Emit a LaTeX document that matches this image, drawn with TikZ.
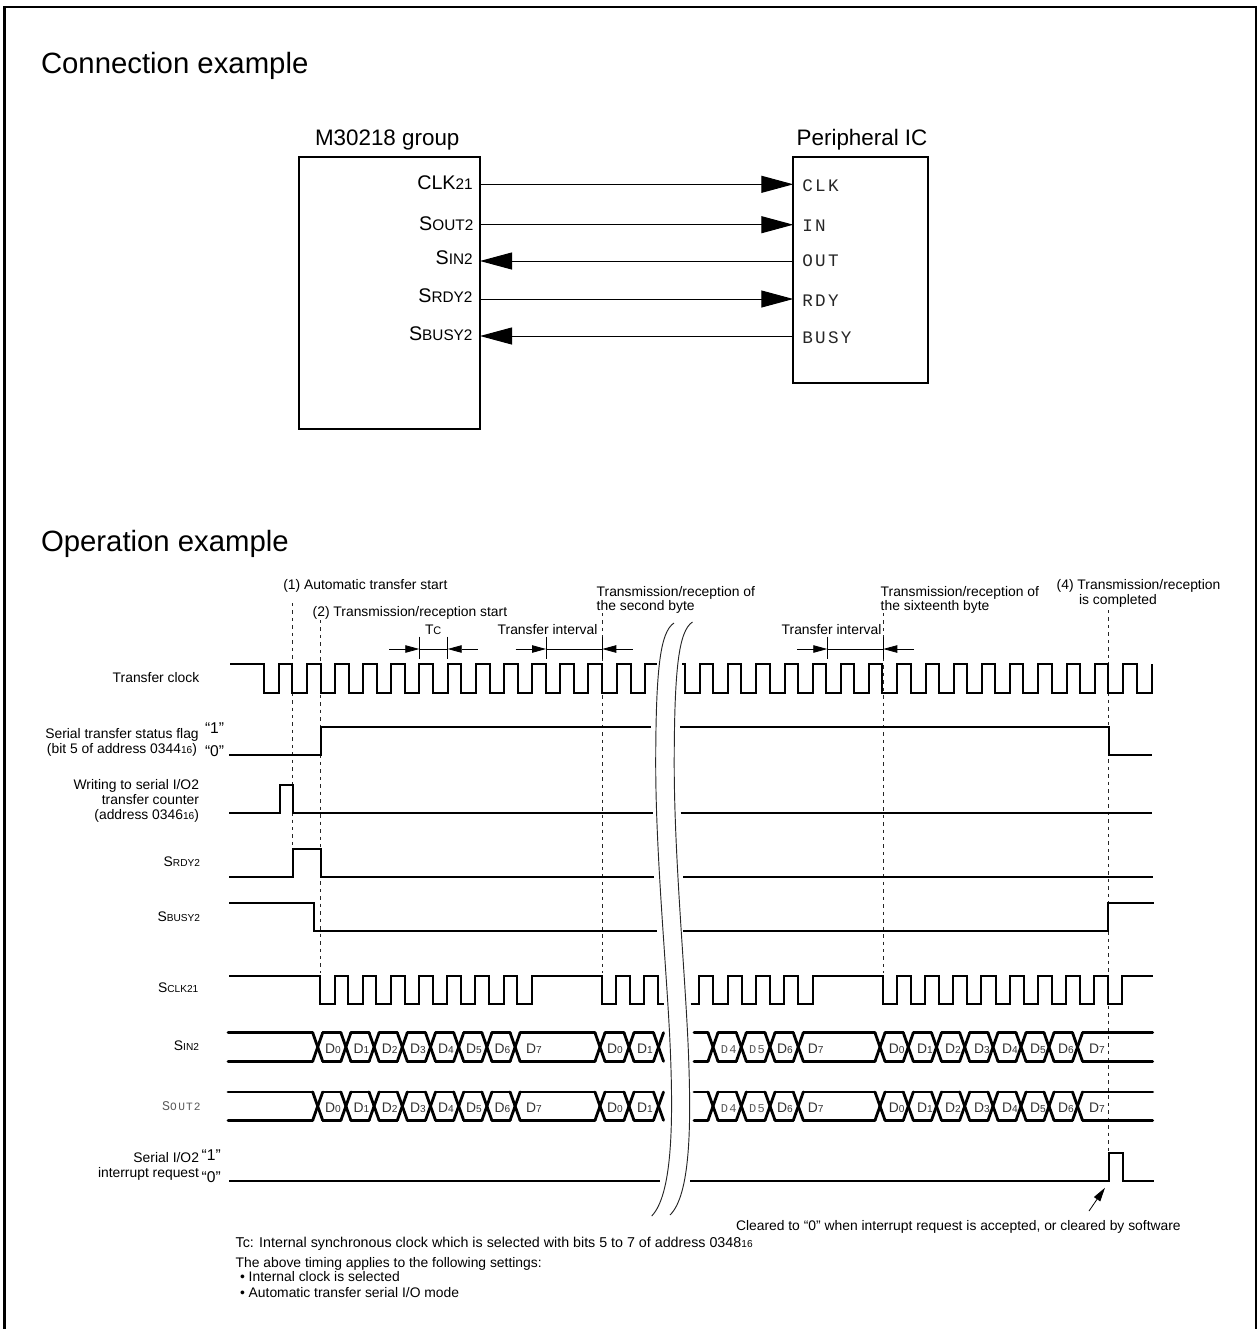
\documentclass[tikz,border=0pt]{standalone}
\usepackage{fontspec}
\setmainfont{Liberation Sans}
\newfontfamily\monof[LetterSpace=13]{Liberation Mono}
\newfontfamily\monog[LetterSpace=10]{Liberation Mono}
\usetikzlibrary{arrows.meta}
\newcommand\fsz[1]{\fontsize{#1}{#1}\selectfont}
\newcommand\smt[1]{{\fsz{7.6}#1}}
\newcommand\bigsig[2]{{\fsz{14.8}#1}{\fsz{11.5}#2}}
\newcommand\bigsub[2]{#1\smt{#2}}
\newcommand\dlab[3]{\node[dtxt] (d#3x#1x#2) at (#1,#2) {D\smt{#3}};}
\newcommand\dmon[3]{\node[dmono] (m#3x#1x#2) at (#1,#2) {D#3};}
\newcommand\busline[3]{%
  \foreach \c in {#3} {
    \draw[bus] (\c-\bh,#1) -- (\c+\bh,#2);
    \draw[bus] (\c-\bh,#2) -- (\c+\bh,#1);
  }}
\newcommand\busflat[3]{%
  \foreach \a/\b in {#3} {
    \draw[bus] (\a,#1) -- (\b,#1);
    \draw[bus] (\a,#2) -- (\b,#2);
  }}
\def\bh{5}
\tikzset{
  wl/.style={inner sep=0,outer sep=0,anchor=base west,font=\fsz{10.4}},
  el/.style={inner sep=0,outer sep=0,anchor=base east,font=\fsz{10.4}},
  head/.style={wl,font=\fsz{22}},
  title/.style={wl,font=\fsz{16.8}},
  sig/.style={el},
  pin/.style={wl,font=\fsz{13.2}\monof,text=black!85},
  qt/.style={wl,font=\fsz{11.7}},
  dtxt/.style={inner sep=0,outer sep=0,anchor=base,font=\fsz{10.4},text=black!80},
  dmono/.style={inner sep=0,outer sep=0,anchor=base,font=\fsz{9}\monog,text=black!65},
  conn/.style={line width=.75pt,black},
  big arrow/.style={conn,-{Triangle[length=24pt,width=12.75pt]}},
  dim arrow/.style={line width=.6pt,black,-{Triangle[length=10.5pt,width=5.6pt]}},
  tick/.style={line width=.6pt},
  sigline/.style={line width=1.5pt,line join=miter},
  bus/.style={line width=2.1pt,line cap=round},
  guide/.style={line width=.7pt,black!85,dash pattern=on 2.6pt off 3pt},
  wave/.style={line width=.7pt,black!85},
}
\begin{document}
\begin{tikzpicture}[x=0.75pt,y=-0.75pt]
\useasboundingbox (0,0) rectangle (1257,1329);
% frame
\draw[line width=2pt] (4.5,1329) -- (4.5,7) -- (1256,7) -- (1256,1329);
\node[head] (h1) at (41,73) {Connection example};
\node[head] (h2) at (41,551) {Operation example};
% connection boxes
\coordinate (boxAa) at (299,157.3); \coordinate (boxAb) at (480,429);
\coordinate (boxBa) at (793.3,157.3); \coordinate (boxBb) at (928.3,383.3);
\draw[line width=1.5pt] (boxAa) rectangle (boxAb);
\draw[line width=1.5pt] (boxBa) rectangle (boxBb);
\node[title] (tA) at (315,145) {M30218 group};
\node[title] (tB) at (796.7,145) {Peripheral IC};
\foreach \n/\y in {clk/184.3,in/224.7,out/261,rdy/299,busy/336}{
  \coordinate (A\n) at (480,\y);
  \coordinate (B\n) at (793.3,\y);
}
\draw[big arrow] (Aclk) -- (Bclk);
\draw[big arrow] (Ain) -- (Bin);
\draw[big arrow] (Bout) -- (Aout);
\draw[big arrow] (Ardy) -- (Brdy);
\draw[big arrow] (Bbusy) -- (Abusy);
\node[el] (p1) at (472.7,189) {\bigsig{CLK}{21}};
\node[el] (p2) at (473.3,230) {\bigsig{S}{OUT2}};
\node[el] (p3) at (472.7,264.3) {\bigsig{S}{IN2}};
\node[el] (p4) at (472.5,302.7) {\bigsig{S}{RDY2}};
\node[el] (p5) at (472.5,340) {\bigsig{S}{BUSY2}};
\node[pin] (q1) at (802.3,191) {CLK};
\node[pin] (q2) at (802.3,231.7) {IN};
\node[pin] (q3) at (802.3,266.7) {OUT};
\node[pin] (q4) at (802.3,306) {RDY};
\node[pin] (q5) at (802.3,343.3) {BUSY};
% guides
\draw[guide] (292.7,603) -- (292.7,850);
\draw[guide] (320.7,620) -- (320.7,973);
\draw[guide] (602.3,613) -- (602.3,973);
\draw[guide] (883.3,613) -- (883.3,973);
\draw[guide] (1108.3,610) -- (1108.3,1153);
% top labels
\node[wl] (a1) at (283.3,589) {(1) Automatic transfer start};
\node[wl] (a2) at (312.7,616.7) {(2) Transmission/reception start};
\node[wl] (a3) at (425,634) {T{\fsz{8.2}C}};
\node[wl] (a4) at (497.7,634) {Transfer interval};
\node[wl] (a5) at (596.7,596) {Transmission/reception of};
\node[wl] (a6) at (596.7,610.7) {the second byte};
\node[wl] (a7) at (880.7,596) {Transmission/reception of};
\node[wl] (a8) at (880.7,610.7) {the sixteenth byte};
\node[wl] (a9) at (781.7,634) {Transfer interval};
\node[wl] (a10) at (1056.7,589) {(4) Transmission/reception};
\node[wl] (a11) at (1079,604) {is completed};
% dimension marks
\foreach \n/\x in {t1/419.3,t2/447.7,t3/546,t4/602.3,t5/827.3,t6/883.3}{
  \coordinate (\n) at (\x,649);
  \draw[tick] (\x,636.5) -- (\x,659.3);
}
\coordinate (f1) at (389,649); \coordinate (f2) at (477.7,649);
\coordinate (f3) at (515.7,649); \coordinate (f4) at (632.7,649);
\coordinate (f5) at (797.3,649); \coordinate (f6) at (914,649);
\draw[dim arrow] (f1) -- (t1); \draw[dim arrow] (f2) -- (t2);
\draw[tick] (t1) -- (t2);
\draw[dim arrow] (f3) -- (t3); \draw[dim arrow] (f4) -- (t4);
\draw[tick] (t3) -- (t4);
\draw[dim arrow] (f5) -- (t5); \draw[dim arrow] (f6) -- (t6);
\draw[tick] (t5) -- (t6);
% signal names
\node[el] (s1) at (199.3,682.7) {Transfer clock};
\node[el] (s2) at (198.7,738.3) {Serial transfer status flag};
\node[el] (s3) at (197,753.3) {(bit 5 of address 0344\smt{16})};
\node[qt] (s4) at (205,733.3) {“1”};
\node[qt] (s5) at (205,756) {“0”};
\node[el] (s6) at (199,789) {Writing to serial I/O2};
\node[el] (s7) at (199,804) {transfer counter};
\node[el] (s8) at (199,819.3) {(address 0346\smt{16})};
\node[el] (s9) at (200,866.7) {\bigsub{S}{RDY2}};
\node[el] (s10) at (200,921) {\bigsub{S}{BUSY2}};
\node[el] (s11) at (198.3,992.7) {\bigsub{S}{CLK21}};
\node[el] (s12) at (199,1050) {\bigsub{S}{IN2}};
\node[el,font=\fsz{10}\monog,text=black!65] (s13) at (200.7,1110) {S{\fsz{8.4}O\kern1pt UT2}};
\node[el] (s14) at (199,1162.7) {Serial I/O2};
\node[el] (s15) at (199,1177.3) {interrupt request};
\node[qt] (s16) at (201.7,1160.7) {“1”};
\node[qt] (s17) at (201.7,1182.7) {“0”};
% transfer clock
\draw[sigline] (230,664.3) foreach \k in {0,...,13} {
  -- (264.3+28.17*\k,664.3) -- (264.3+28.17*\k,692.7) -- (278.6+28.17*\k,692.7) -- (278.6+28.17*\k,664.3)
} -- (656.7,664.3);
\draw[sigline] (682,664.3) foreach \k in {0,...,15} {
  -- (685+28.2*\k,664.3) -- (685+28.2*\k,692.7) -- (700+28.2*\k,692.7) -- (700+28.2*\k,664.3)
} -- (1136.8,664.3) -- (1136.8,692.7) -- (1151.7,692.7) -- (1151.7,664.3);
% status
\draw[sigline] (229,755) -- (320.7,755) -- (320.7,727.3) -- (651,727.3);
\draw[sigline] (680,727.3) -- (1108.7,727.3) -- (1108.7,755) -- (1151.7,755);
% write
\draw[sigline] (229,812.7) -- (280.3,812.7) -- (280.3,785) -- (292.7,785) -- (292.7,812.7) -- (652.7,812.7);
\draw[sigline] (680.7,812.7) -- (1151.7,812.7);
% rdy
\draw[sigline] (229,877) -- (292.7,877) -- (292.7,849.3) -- (320.7,849.3) -- (320.7,877) -- (654,877);
\draw[sigline] (683.3,877) -- (1153.3,877);
% busy
\draw[sigline] (229,902.7) -- (313.7,902.7) -- (313.7,930.5) -- (657,930.5);
\draw[sigline] (683,930.5) -- (1108.3,930.5) -- (1108.3,902.7) -- (1154,902.7);
% sclk
\draw[sigline] (229,975.7) foreach \k in {0,...,7} {
  -- (320+28.17*\k,975.7) -- (320+28.17*\k,1004) -- (334.5+28.17*\k,1004) -- (334.5+28.17*\k,975.7)
} -- (602.3,975.7) -- (602.3,1004) -- (615.7,1004) -- (615.7,975.7) -- (630,975.7) -- (630,1004) -- (644,1004) -- (644,975.7) -- (658.3,975.7) -- (658.3,1004) -- (664.3,1004);
\draw[sigline] (690.7,1004) -- (699.3,1004) -- (699.3,975.7) -- (713.3,975.7) -- (713.3,1004) -- (728,1004) -- (728,975.7) -- (741.5,975.7) -- (741.5,1004) -- (756,1004) -- (756,975.7) -- (770,975.7) -- (770,1004) -- (784,1004) -- (784,975.7) -- (798,975.7) -- (798,1004) -- (813.3,1004) -- (813.3,975.7)
 foreach \k in {0,...,8} {
  -- (882.7+28.2*\k,975.7) -- (882.7+28.2*\k,1004) -- (896.7+28.2*\k,1004) -- (896.7+28.2*\k,975.7)
} -- (1153.3,975.7);
% data buses
\foreach \yt/\yb in {1032.7/1061.3,1092/1120.3}{
  \busflat{\yt}{\yb}{228/312.7,322.7/340.9,350.9/369.1,379.1/397.3,407.3/425.5,435.5/453.7,463.7/481.9,491.9/510.1,520.1/595,605/624,634/653.5,694/708,718/736.3,746.3/765,775/793.3,803.3/875,885/903.3,913.3/931.5,941.5/959.7,969.7/988,998/1016,1026/1044,1054/1072.5,1082.5/1152.7}
  \busline{\yt}{\yb}{317.7,345.9,374.1,402.3,430.5,458.7,486.9,515.1,600,629,658.5,713,741.3,770,798.3,880,908.3,936.5,964.7,993,1021,1049,1077.5}
}
\foreach \x/\d in {333/0,361.5/1,389.7/2,418/3,446/4,474/5,502.5/6,534/7,615/0,645/1,785/6,815.7/7,896.7/0,925/1,953/2,982/3,1010/4,1038/5,1066/6,1097/7}{
  \dlab{\x}{1053.3}{\d}
  \dlab{\x}{1112.3}{\d}
}
\foreach \x/\d in {728.7/4,757/5}{
  \dmon{\x}{1053.3}{\d}
  \dmon{\x}{1112.3}{\d}
}
% interrupt
\draw[sigline] (229,1181.3) -- (660,1181.3);
\draw[sigline] (690,1181.3) -- (1108.7,1181.3) -- (1108.7,1152.7) -- (1122.7,1152.7) -- (1122.7,1181.3) -- (1154,1181.3);
% break marks
\draw[wave] (674,623) .. controls (660,632) and (656,670) .. (655.7,760) .. controls (655.5,860) and (668,980) .. (670.7,1060) .. controls (673,1125) and (672,1195) .. (651.7,1216);
\draw[wave] (692.5,622) .. controls (678.5,631) and (674.5,670) .. (674.2,760) .. controls (674,860) and (686,980) .. (688.7,1060) .. controls (691,1125) and (690.5,1195) .. (670,1215);
% interrupt note
\coordinate (n1) at (1089,1211); \coordinate (n2) at (1105,1187.7);
\draw[dim arrow] (n1) -- (n2);
\node[wl] (c1) at (736,1230) {Cleared to “0” when interrupt request is accepted, or cleared by software};
% foot
\node[wl,font=\fsz{10.7}] (f7) at (235.7,1247.3) {Tc: Internal synchronous clock which is selected with bits 5 to 7 of address 0348\smt{16}};
\node[wl] (f8) at (235.7,1267.3) {The above timing applies to the following settings:};
\node[wl] (f9) at (240,1281.7) {• Internal clock is selected};
\node[wl] (f10) at (240,1297.3) {• Automatic transfer serial I/O mode};
\end{tikzpicture}
\end{document}
